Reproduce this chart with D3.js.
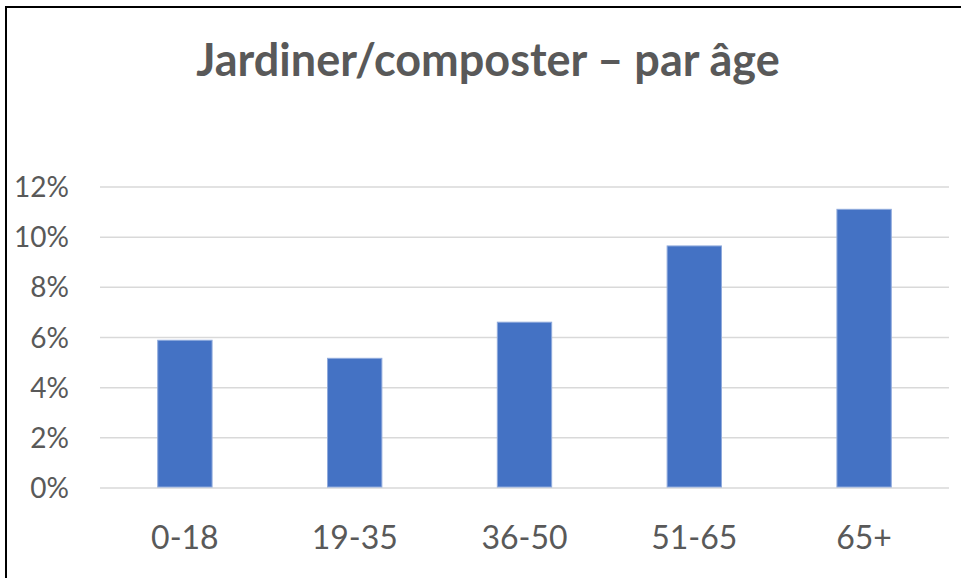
<!DOCTYPE html>
<meta charset="utf-8">
<style>
body {
  margin: 0;
  background: #fff;
}
text {
  font-family: Lato, "Open Sans", sans-serif;
  fill: #595959;
}
.grid line {
  stroke: #d9d9d9;
  stroke-width: 1.5px;
}
.bar {
  fill: #4472c4;
  stroke: #8faadc;
  stroke-width: 1px;
}
</style>
<svg></svg>
<script src="https://cdn.jsdelivr.net/npm/d3@7"></script>
<script>

var ageGroups = ["0-18", "19-35", "36-50", "51-65", "65+"];
var shares = [0.0589, 0.0517, 0.0661, 0.0965, 0.1111];
var yTicks = [0, 0.02, 0.04, 0.06, 0.08, 0.10, 0.12];
var title = "Jardiner/composter \u2013 par \u00e2ge";

var width = 961,
    height = 578;

var svg = d3.select("svg")
    .attr("width", width)
    .attr("height", height);

// chart frame (extends past the right / bottom edges, as in the picture)
svg.append("rect")
    .attr("x", 6)
    .attr("y", 7)
    .attr("width", width + 10)
    .attr("height", height + 10)
    .attr("fill", "none")
    .attr("stroke", "#000")
    .attr("stroke-width", 2);

var x = d3.scaleBand()
    .domain(ageGroups)
    .range([100, 949])
    .paddingInner(0.68)
    .paddingOuter(0.34);

var y = d3.scaleLinear()
    .domain([0, 0.12])
    .range([488, 187]);

// gridlines
svg.append("g")
    .attr("class", "grid")
  .selectAll("line")
  .data(yTicks)
  .enter().append("line")
    .attr("x1", 100)
    .attr("x2", 949)
    .attr("y1", function(d) { return y(d); })
    .attr("y2", function(d) { return y(d); });

// y labels
svg.append("g")
  .selectAll("text")
  .data(yTicks)
  .enter().append("text")
    .attr("x", 69)
    .attr("y", function(d) { return y(d); })
    .attr("dy", "0.36em")
    .attr("text-anchor", "end")
    .style("font-size", "28px")
    .text(d3.format(".0%"));

// bars
svg.append("g")
  .selectAll("rect")
  .data(shares)
  .enter().append("rect")
    .attr("class", "bar")
    .attr("x", function(d, i) { return x(ageGroups[i]); })
    .attr("width", x.bandwidth())
    .attr("y", function(d) { return y(d); })
    .attr("height", function(d) { return y(0) - y(d) - 1; });

// x labels
svg.append("g")
  .selectAll("text")
  .data(ageGroups)
  .enter().append("text")
    .attr("x", function(d) { return x(d) + x.bandwidth() / 2; })
    .attr("y", 549)
    .attr("text-anchor", "middle")
    .style("font-size", "32px")
    .text(function(d) { return d; });

svg.append("text")
    .attr("x", 488)
    .attr("y", 76)
    .attr("text-anchor", "middle")
    .style("font-size", "45px")
    .style("font-weight", "bold")
    .text(title);

</script>
